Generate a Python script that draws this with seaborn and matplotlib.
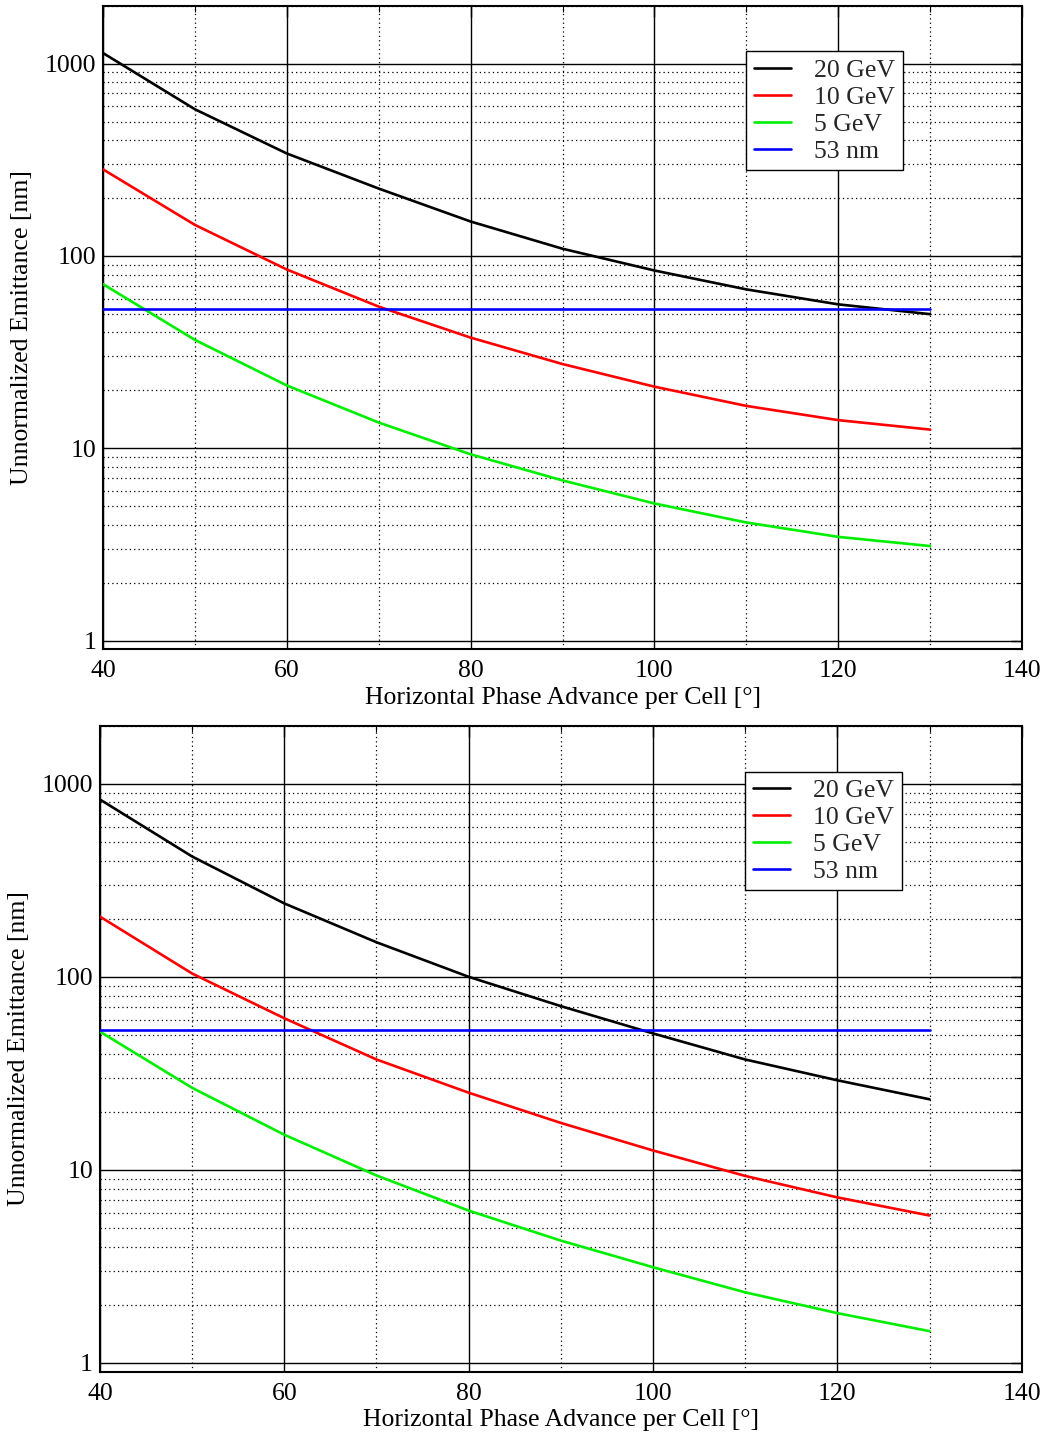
import numpy as np
import pandas as pd
import matplotlib
matplotlib.use("Agg")
import matplotlib.pyplot as plt
from matplotlib.ticker import FixedLocator, LogLocator, NullFormatter, FixedFormatter
import seaborn as sns

# ---------------- data ----------------
phase = [40, 50, 60, 70, 80, 90, 100, 110, 120, 130]

top_20gev = [1135, 579, 341, 224, 151, 109, 84, 67, 56, 49.8]
top_10gev = [282, 145, 85, 54.5, 37.6, 27.4, 20.9, 16.6, 14.0, 12.5]
top_5gev = [71.3, 36.6, 21.2, 13.6, 9.3, 6.8, 5.16, 4.11, 3.46, 3.10]

bot_20gev = [829, 420, 240, 151, 100, 70.5, 50.9, 37.3, 29.1, 23.2]
bot_10gev = [205, 104, 61, 37.3, 25.1, 17.5, 12.6, 9.3, 7.2, 5.8]
bot_5gev = [52, 26.6, 15.2, 9.35, 6.15, 4.3, 3.13, 2.32, 1.81, 1.46]

ref_x = [40, 130]
ref_y = [53, 53]

series_names = ["20 GeV", "10 GeV", "5 GeV", "53 nm"]
series_colors = ["#000000", "#ff0000", "#00ee00", "#0000ff"]

x_ticks = [40, 60, 80, 100, 120, 140]
x_minor = [50, 70, 90, 110, 130]
y_ticks = [1, 10, 100, 1000]
y_ticklabels = ["1", "10", "100", "1000"]

xlabel = "Horizontal Phase Advance per Cell [°]"
ylabel = "Unnormalized Emittance [nm]"


def make_df(s20, s10, s5):
    rows = []
    for name, vals in zip(series_names[:3], [s20, s10, s5]):
        for x, v in zip(phase, vals):
            rows.append({"phase": x, "emit": v, "series": name})
    for x, v in zip(ref_x, ref_y):
        rows.append({"phase": x, "emit": v, "series": series_names[3]})
    return pd.DataFrame(rows)


sns.set_theme(style="white")
plt.rcParams["font.family"] = ["Liberation Serif", "DejaVu Serif"]
plt.rcParams["mathtext.fontset"] = "stix"

FS = 18.5

fig = plt.figure(figsize=(10.49, 14.35), dpi=100)
ax_top = fig.add_axes([0.0982, 0.5475, 0.8761, 0.4485])
ax_bot = fig.add_axes([0.0953, 0.0441, 0.8787, 0.4502])

palette = dict(zip(series_names, series_colors))

for ax, data in [(ax_top, (top_20gev, top_10gev, top_5gev)),
                 (ax_bot, (bot_20gev, bot_10gev, bot_5gev))]:
    df = make_df(*data)
    sns.lineplot(data=df, x="phase", y="emit", hue="series",
                 hue_order=series_names, palette=palette,
                 linewidth=1.9, ax=ax, zorder=5)
    ax.set_yscale("log")
    ax.set_xlim(40, 140)
    ax.set_ylim(0.9, 2000)

    ax.xaxis.set_major_locator(FixedLocator(x_ticks))
    ax.xaxis.set_minor_locator(FixedLocator(x_minor))
    ax.yaxis.set_major_locator(FixedLocator(y_ticks))
    ax.yaxis.set_major_formatter(FixedFormatter(y_ticklabels))
    ax.yaxis.set_minor_locator(LogLocator(base=10, subs=np.arange(2, 10), numticks=20))
    ax.yaxis.set_minor_formatter(NullFormatter())

    ax.grid(which="major", color="black", linestyle="-", linewidth=1.0)
    ax.grid(which="minor", color="black", linestyle=(0, (1, 2.5)), linewidth=0.9)

    ax.tick_params(which="both", direction="in", top=True, right=True,
                   labelsize=FS, colors="black")
    ax.tick_params(axis="x", which="major", pad=8)
    ax.tick_params(axis="y", which="major", pad=5)
    ax.tick_params(which="major", length=8, width=1.0)
    ax.tick_params(which="minor", length=4, width=0.8)
    for sp in ax.spines.values():
        sp.set_color("black")
        sp.set_linewidth(1.5)

    ax.set_xlabel(xlabel, fontsize=FS, color="black", labelpad=3)
    ax.set_ylabel(ylabel, fontsize=FS, color="black", labelpad=8)

    leg = ax.legend(loc="upper left", bbox_to_anchor=(0.700, 0.929),
                    fontsize=FS, frameon=True, fancybox=False,
                    handlelength=1.45, handletextpad=0.9,
                    borderpad=0.3, borderaxespad=0.0,
                    labelspacing=0.15, framealpha=1.0)
    leg.get_frame().set_edgecolor("black")
    leg.get_frame().set_linewidth(1.0)
    leg.set_zorder(10)
    for h in leg.get_lines():
        h.set_linewidth(1.9)

fig.savefig("out.png", dpi=100, facecolor="white")
